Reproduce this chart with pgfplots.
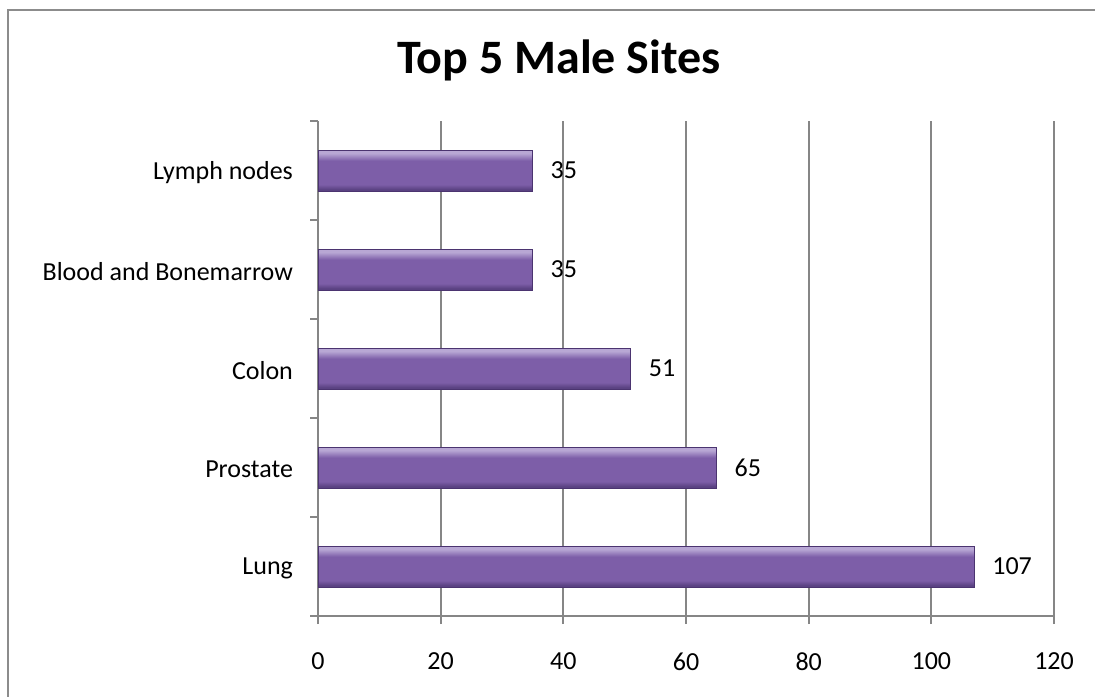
\documentclass[border=0pt]{standalone}
\usepackage{fontspec}
\setmainfont{Carlito}
\usepackage{pgfplots}
\pgfplotsset{compat=1.18}
\definecolor{gridc}{HTML}{868686}
\definecolor{framec}{HTML}{8C8C8C}
\definecolor{bartop}{HTML}{B8A7D4}
\definecolor{barmid}{HTML}{7D5EA8}
\definecolor{barbot}{HTML}{5A4282}
\definecolor{baredge}{HTML}{4B3470}
\pgfdeclareverticalshading{barshade}{100bp}{color(0bp)=(barbot); color(27bp)=(barbot); color(33bp)=(barmid); color(62bp)=(barmid); color(71bp)=(bartop); color(100bp)=(bartop)}
\pgfplotsset{mybar/.style={xbar, bar width=20.5pt, draw=baredge, line width=0.4pt, shading=barshade}}
\begin{document}
\begin{tikzpicture}
\useasboundingbox (0,0) rectangle (547.5pt,348pt);
\draw[color=framec, line width=1.25pt] (4pt,-5pt) -- (4pt,343pt) -- (560pt,343pt);
\node[font=\bfseries\fontsize{24}{28}\selectfont] at (279.5pt,318pt) {Top 5 Male Sites};
\begin{axis}[
  at={(159pt,40pt)}, anchor=south west,
  scale only axis, width=368pt, height=247.5pt,
  xmin=0, xmax=120, ymin=-0.5, ymax=4.5,
  xtick={0,20,...,120},
  ytick={-0.5,0.5,1.5,2.5,3.5,4.5},
  y tick label as interval,
  yticklabels={Lung,Prostate,Colon,Blood and  Bonemarrow,Lymph nodes},
  axis x line*=bottom, axis y line*=left,
  axis line style={gridc, line width=0.9pt, -},
  xmajorgrids, major grid style={gridc, line width=0.9pt},
  tick align=outside, major tick length=4pt,
  tick style={gridc, line width=0.9pt},
  ticklabel style={font=\fontsize{13}{15}\selectfont, text=black},
  /pgf/number format/assume math mode=true,
  xticklabel style={yshift=-11pt},
  yticklabel style={xshift=-5pt, yshift=-1pt},
  point meta=x,
  nodes near coords,
  every node near coord/.append style={font=\fontsize{13}{15}\selectfont, text=black, anchor=west, xshift=5.5pt},
]
\addplot[mybar] coordinates {(107,0)};
\addplot[mybar] coordinates {(65,1)};
\addplot[mybar] coordinates {(51,2)};
\addplot[mybar] coordinates {(35,3)};
\addplot[mybar] coordinates {(35,4)};
\end{axis}
\end{tikzpicture}
\end{document}
